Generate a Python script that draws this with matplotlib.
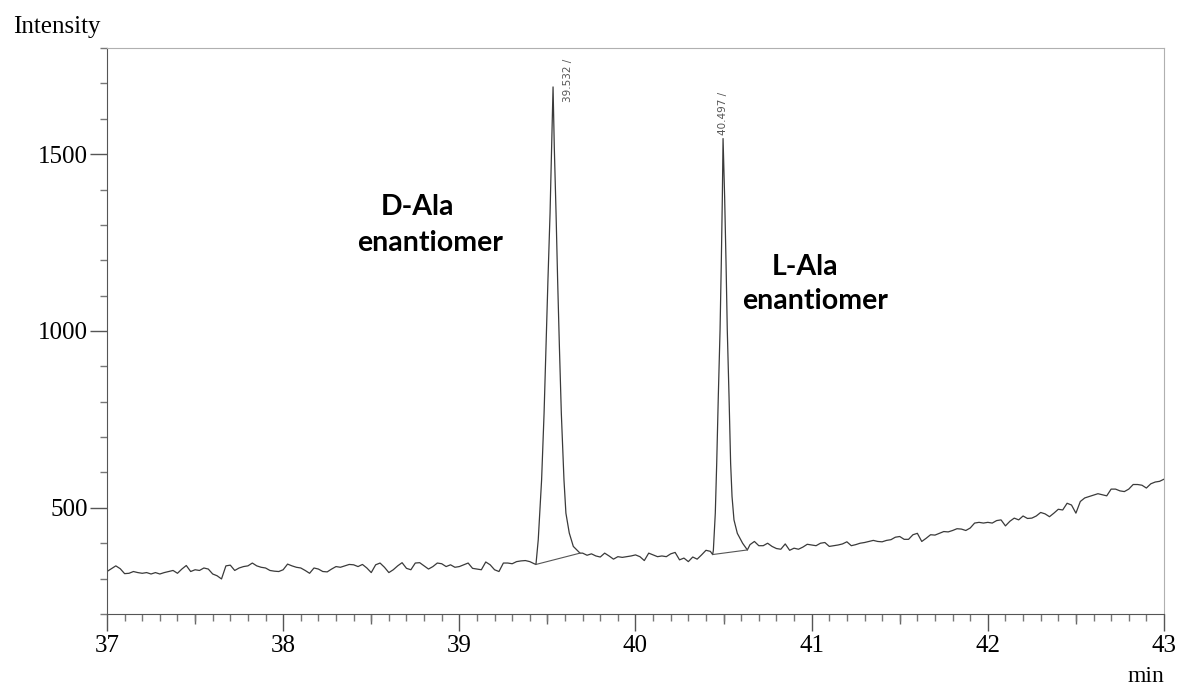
import numpy as np
import matplotlib
matplotlib.use('Agg')
import matplotlib.pyplot as plt
from matplotlib.ticker import MultipleLocator

# Chromatogram trace (time in min, intensity)
STEP = 0.025

# 37.000 -> 39.425 min
trace_a = [320, 328, 336, 328, 314, 315, 320, 317, 315, 317,
           313, 317, 313, 317, 320, 323, 315, 327, 337, 320,
           325, 323, 330, 327, 313, 308, 299, 336, 338, 323,
           330, 334, 336, 344, 336, 332, 330, 323, 321, 320,
           325, 341, 336, 332, 330, 323, 315, 330, 327, 320,
           319, 327, 334, 332, 336, 340, 339, 334, 340, 330,
           317, 339, 344,
           332, 317, 325, 336, 345, 329, 325, 344, 345, 336,
           327, 334, 344, 342, 334, 339, 332, 334, 339, 344,
           329, 327, 325, 347, 339, 325, 320, 344, 344, 342,
           348, 350, 351, 348, 342]

# D-Ala peak
peak1_t = [39.435, 39.448, 39.467, 39.481, 39.492, 39.503, 39.515, 39.524, 39.532,
           39.539, 39.549, 39.558, 39.568, 39.579, 39.594, 39.605, 39.624, 39.647, 39.685]
peak1_v = [340, 410, 579, 767, 956, 1144, 1333, 1521, 1690,
           1521, 1333, 1144, 956, 767, 579, 485, 429, 391, 372]

# 39.700 -> 40.425 min
trace_b = [372, 366, 370, 364, 361, 372, 364, 355, 362, 360,
           362, 364, 367, 362, 351, 372,
           367, 362, 364, 362, 370, 374, 353, 358, 348, 361,
           355, 367, 380, 377]

# L-Ala peak
peak2_t = [40.438, 40.442, 40.453, 40.461, 40.470, 40.480, 40.487, 40.493, 40.497,
           40.506, 40.514, 40.521, 40.531, 40.540, 40.548, 40.559, 40.578, 40.608, 40.635]
peak2_v = [368, 380, 485, 626, 814, 1003, 1191, 1379, 1544,
           1379, 1191, 1003, 814, 626, 532, 466, 428, 400, 381]

# 40.650 -> 43.000 min
trace_c = [396, 405, 393, 393, 400, 391, 385, 383, 398, 380,
           386, 383, 389, 397, 395, 393, 400, 402, 391, 393,
           395, 398, 404, 393, 396, 400, 402, 405, 408, 405,
           404, 408, 410, 417, 419, 411, 411, 424, 428,
           405, 414, 424, 423, 428, 433, 432, 436, 441, 440,
           436, 443, 457, 459, 457, 459, 457, 464, 466, 449,
           462, 471, 466, 477, 470, 471, 477, 487, 483, 475,
           485, 496, 494, 513, 508, 485, 518, 528, 532, 536,
           540, 537, 534, 553, 553, 548, 546, 553, 566, 566,
           564, 556, 568, 573, 575, 581]

# integration baselines drawn under the peaks
base1_t = [39.435, 39.685]
base1_v = [340, 372]
base2_t = [40.438, 40.635]
base2_v = [368, 381]

peak_labels = ['39.532 /', '40.497 /']


def grid(t0, n):
    return np.round(t0 + STEP * np.arange(n), 3)


t = np.concatenate([grid(37.0, len(trace_a)), peak1_t,
                    grid(39.7, len(trace_b)), peak2_t,
                    grid(40.65, len(trace_c))])
v = np.concatenate([trace_a, peak1_v, trace_b, peak2_v, trace_c])

fig = plt.figure(figsize=(11.81, 6.86), dpi=100)
ax = fig.add_axes([0.0906, 0.105, 0.8950, 0.825])

ax.plot(t, v, color='#3a3a3a', linewidth=0.9)
ax.plot(base1_t, base1_v, color='#555555', linewidth=0.8)
ax.plot(base2_t, base2_v, color='#555555', linewidth=0.8)

ax.set_xlim(37, 43)
ax.set_ylim(200, 1800)

ax.xaxis.set_major_locator(MultipleLocator(1))
ax.xaxis.set_minor_locator(MultipleLocator(0.1))
ax.yaxis.set_major_locator(MultipleLocator(500))
ax.yaxis.set_minor_locator(MultipleLocator(100))
ax.set_yticks([500, 1000, 1500])

serif = 'Liberation Serif'
for lab in ax.get_xticklabels() + ax.get_yticklabels():
    lab.set_fontfamily(serif)
ax.tick_params(which='major', length=12, width=1, color='#555555', labelsize=18, pad=2)
ax.tick_params(which='minor', length=5, width=1, color='#777777')
ax.tick_params(axis='x', which='major', pad=3)

# medium ticks at the half minutes
sec = ax.secondary_xaxis('bottom')
sec.set_xticks(np.arange(37.5, 43, 1.0))
sec.tick_params(length=7, width=1, color='#666666', labelbottom=False)
sec.spines['bottom'].set_visible(False)

ax.spines['left'].set_color('#555555')
ax.spines['bottom'].set_color('#555555')
ax.spines['top'].set_color('#b0b0b0')
ax.spines['right'].set_color('#b0b0b0')

# retention time labels
ax.text(39.617, 1647, peak_labels[0], rotation=90, ha='center', va='bottom',
        fontsize=7.5, color='#555555', family='Liberation Sans Narrow')
ax.text(40.494, 1554, peak_labels[1], rotation=90, ha='center', va='bottom',
        fontsize=7.5, color='#555555', family='Liberation Sans Narrow')

# peak names
name_kw = dict(ha='center', va='baseline', fontsize=20.5, fontweight='bold', family='Lato')
ax.text(38.765, 1328, 'D-Ala', **name_kw)
ax.text(38.833, 1226, 'enantiomer', **name_kw)
ax.text(40.962, 1158, 'L-Ala', **name_kw)
ax.text(41.019, 1062, 'enantiomer', **name_kw)

fig.text(13 / 1181, 1 - 27 / 686, 'Intensity', ha='left', va='center',
         fontsize=18, family=serif)
fig.text(1164 / 1181, 1 - 676 / 686, 'min', ha='right', va='center',
         fontsize=17, family=serif)

fig.savefig('out.png', dpi=100)
